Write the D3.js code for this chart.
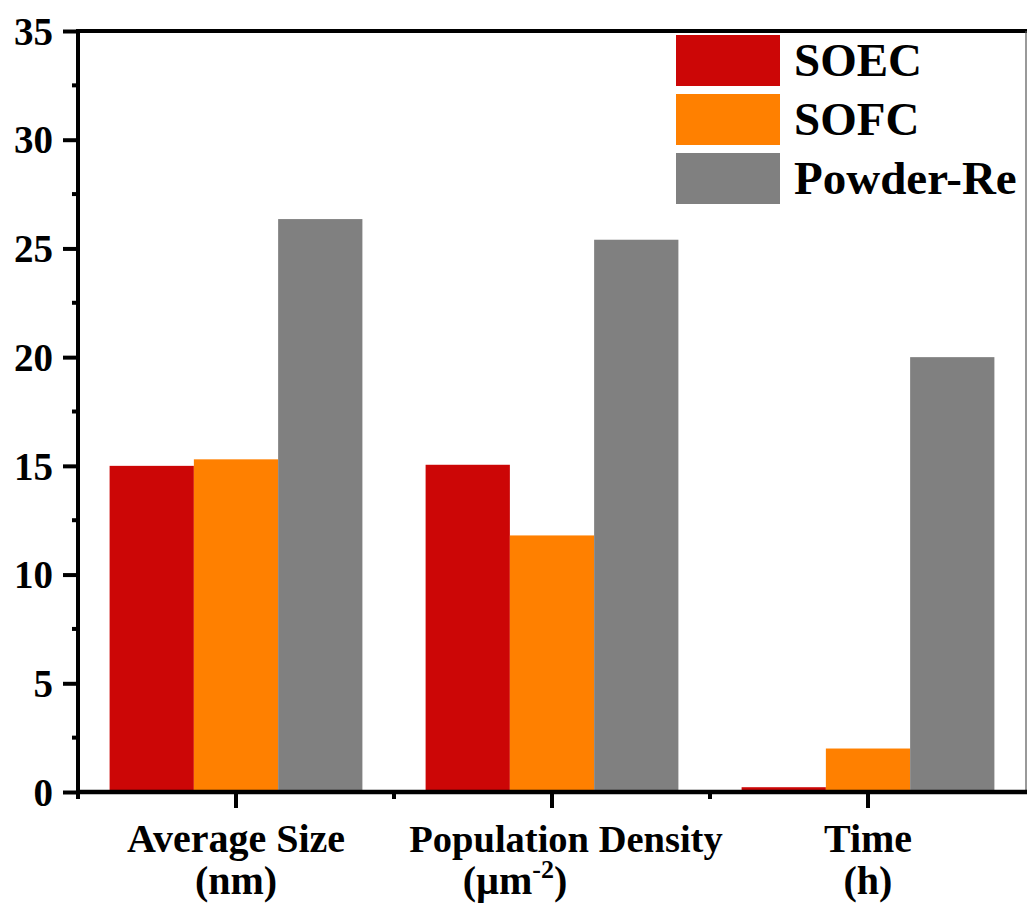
<!DOCTYPE html>
<html>
<head>
<meta charset="utf-8">
<script src="https://cdn.jsdelivr.net/npm/d3@7"></script>
<style>
  body { margin: 0; background: #fff; }
  svg text { font-family: "Liberation Serif", "Times New Roman", serif; font-weight: bold; fill: #000; }
</style>
</head>
<body>
<svg id="chart" width="1027" height="914"></svg>
<script>
var categories = ["Average Size|(nm)", "Population Density|(\u00b5m-2)", "Time|(h)"];
var seriesNames = ["SOEC", "SOFC", "Powder-Re"];
var seriesColors = ["#cc0606", "#ff8000", "#808080"];
var soec = [15.0, 15.05, 0.22];
var sofc = [15.3, 11.8, 2.0];
var powder = [26.35, 25.4, 20.0];
var yTicks = [0, 5, 10, 15, 20, 25, 30, 35];

var seriesValues = [soec, sofc, powder];

var svg = d3.select("#chart");
var plotLeft = 78, plotRight = 1026, plotTop = 31, plotBottom = 792;

var x = d3.scaleBand()
    .domain(d3.range(categories.length))
    .range([plotLeft, plotRight])
    .padding(0);

var x1 = d3.scaleBand()
    .domain(d3.range(seriesNames.length))
    .range([x.bandwidth() * 0.1, x.bandwidth() * 0.9])
    .padding(0);

var y = d3.scaleLinear().domain([0, 35]).range([plotBottom, plotTop]);

// bars
categories.forEach(function(c, ci) {
    seriesNames.forEach(function(s, si) {
        var v = seriesValues[si][ci];
        svg.append("rect")
            .attr("x", x(ci) + x1(si))
            .attr("y", y(v))
            .attr("width", x1.bandwidth())
            .attr("height", y(0) - y(v))
            .attr("fill", seriesColors[si]);
    });
});

// frame (top + right)
svg.append("line")
    .attr("x1", plotLeft).attr("x2", 1027)
    .attr("y1", plotTop).attr("y2", plotTop)
    .attr("stroke", "#000").attr("stroke-width", 4);
svg.append("line")
    .attr("x1", plotRight).attr("x2", plotRight)
    .attr("y1", plotTop).attr("y2", plotBottom)
    .attr("stroke", "#555").attr("stroke-width", 1.2);

// y axis
var yAxis = svg.append("g")
    .attr("transform", "translate(" + plotLeft + ",0)")
    .call(d3.axisLeft(y).tickValues(yTicks).tickSize(15).tickPadding(10).tickFormat(d3.format("d")));
yAxis.select(".domain").remove();
yAxis.selectAll(".tick line").attr("stroke", "#000").attr("stroke-width", 4);
yAxis.selectAll(".tick text")
    .style("font-size", "39px")
    .attr("dy", "0.34em");

// y minor ticks
var yMinor = d3.range(2.5, 35, 5);
svg.selectAll(".yminor")
    .data(yMinor)
    .enter().append("line")
    .attr("class", "yminor")
    .attr("x1", plotLeft - 6).attr("x2", plotLeft)
    .attr("y1", function(d) { return y(d); })
    .attr("y2", function(d) { return y(d); })
    .attr("stroke", "#000").attr("stroke-width", 4);

svg.append("line")
    .attr("x1", plotLeft).attr("x2", plotLeft)
    .attr("y1", plotTop - 2).attr("y2", plotBottom + 2)
    .attr("stroke", "#000").attr("stroke-width", 4);

// x axis
svg.append("line")
    .attr("x1", plotLeft - 2).attr("x2", 1027)
    .attr("y1", plotBottom).attr("y2", plotBottom)
    .attr("stroke", "#000").attr("stroke-width", 4.5);

svg.selectAll(".xmajor")
    .data(d3.range(categories.length))
    .enter().append("line")
    .attr("class", "xmajor")
    .attr("x1", function(d) { return x(d) + x.bandwidth() / 2; })
    .attr("x2", function(d) { return x(d) + x.bandwidth() / 2; })
    .attr("y1", plotBottom).attr("y2", plotBottom + 16)
    .attr("stroke", "#000").attr("stroke-width", 4);

svg.selectAll(".xminor")
    .data(d3.range(categories.length))
    .enter().append("line")
    .attr("class", "xminor")
    .attr("x1", function(d) { return x(d); })
    .attr("x2", function(d) { return x(d); })
    .attr("y1", plotBottom).attr("y2", plotBottom + 7)
    .attr("stroke", "#000").attr("stroke-width", 4);

// category labels (two lines); the density label sits a bit off-centre in the original
categories.forEach(function(c, ci) {
    var parts = c.split("|");
    var cx = x(ci) + x.bandwidth() / 2;
    var dense = parts[1].indexOf("-2") >= 0;
    svg.append("text")
        .attr("x", cx + (dense ? 14 : 0)).attr("y", 852)
        .attr("text-anchor", "middle")
        .style("font-size", dense ? "38.5px" : "40px")
        .text(parts[0]);
    var t = svg.append("text")
        .attr("x", cx - (dense ? 37 : 0)).attr("y", 894)
        .attr("text-anchor", "middle")
        .style("font-size", "40px");
    if (dense) {
        t.append("tspan").text("(\u00b5m");
        t.append("tspan").attr("dy", -16).style("font-size", "26px").text("-2");
        t.append("tspan").attr("dy", 16).text(")");
    } else {
        t.text(parts[1]);
    }
});

// legend
var legend = svg.append("g").attr("transform", "translate(676,35)");
seriesNames.forEach(function(s, si) {
    legend.append("rect")
        .attr("x", 0).attr("y", si * 59)
        .attr("width", 104).attr("height", 51)
        .attr("fill", seriesColors[si]);
    legend.append("text")
        .attr("x", 118).attr("y", si * 59 + 41)
        .style("font-size", "47px")
        .text(s);
});
</script>
</body>
</html>
